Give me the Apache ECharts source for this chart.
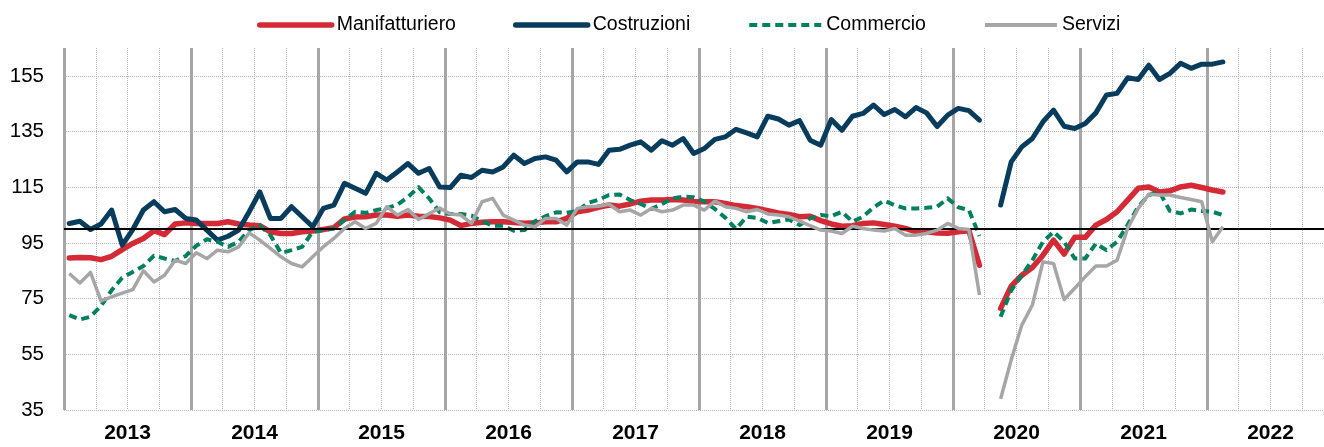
<!DOCTYPE html>
<html>
<head>
<meta charset="utf-8">
<script src="https://cdn.jsdelivr.net/npm/echarts@6/dist/echarts.min.js"></script>
<style>
html,body{margin:0;padding:0;background:#fff;}
#chart{width:1324px;height:447px;}
</style>
</head>
<body>
<div id="chart"></div>
<script>
// ---- Data (monthly, Jan 2013 - Feb 2022; Apr 2020 missing) ----
const years = ['2013','2014','2015','2016','2017','2018','2019','2020','2021','2022'];
const monthNums = ['01','02','03','04','05','06','07','08','09','10','11','12'];
const yTicks = [35, 55, 75, 95, 115, 135, 155];
const seriesNames = ['Manifatturiero', 'Costruzioni', 'Commercio', 'Servizi'];

const manifatturiero = [
  89.6, 89.8, 89.7, 89.0, 90.2, 92.6, 94.8, 96.6, 99.4, 98.0, 101.8, 102.2,
  102.0, 102.0, 102.0, 102.6, 101.8, 101.4, 101.2, 99.0, 98.4, 98.4, 99.0, 99.3,
  99.8, 100.5, 103.6, 104.3, 104.4, 105.0, 105.0, 104.6, 105.0, 104.6, 104.5, 104.0,
  103.2, 101.2, 102.0, 102.4, 102.6, 102.6, 102.3, 102.1, 102.2, 102.6, 102.6, 103.8,
  106.2, 106.8, 107.8, 108.6, 108.2, 109.0, 110.0, 110.4, 110.4, 110.6, 110.4, 109.9,
  109.8, 109.8, 109.2, 108.4, 108.0, 107.4, 106.6, 105.8, 105.2, 104.4, 104.6, 103.0,
  101.8, 101.0, 101.2, 102.0, 102.2, 101.6, 101.0, 100.2, 99.0, 99.0, 98.6, 98.5,
  99.0, 99.4, 87.0, null, 71.5, 79.5, 83.4, 86.2, 90.6, 96.0, 91.0, 97.0,
  97.0, 101.4, 103.4, 106.2, 110.4, 114.6, 115.1, 113.3, 113.7, 115.1, 115.7, 114.9,
  114.0, 113.3
];
const costruzioni = [
  102.0, 102.8, 99.8, 101.8, 106.8, 94.2, 99.8, 106.8, 109.8, 106.2, 107.0, 103.8,
  103.2, 99.6, 96.0, 97.4, 99.6, 106.2, 113.3, 103.8, 103.8, 108.0, 104.4, 100.8,
  107.4, 108.6, 116.4, 114.6, 112.8, 120.0, 117.6, 120.5, 123.5, 120.0, 121.7, 115.1,
  114.9, 119.3, 118.5, 121.1, 120.5, 122.3, 126.5, 123.5, 125.3, 125.9, 124.7, 120.5,
  124.1, 124.1, 123.2, 128.3, 128.6, 130.1, 131.3, 128.3, 131.7, 130.1, 132.5, 127.1,
  128.9, 132.2, 133.1, 135.8, 134.5, 133.1, 140.5, 139.5, 137.3, 138.9, 131.9, 130.1,
  139.3, 135.5, 140.5, 141.5, 144.5, 141.1, 142.9, 140.3, 143.6, 141.7, 136.8, 140.9,
  143.3, 142.5, 139.1, null, 108.6, 124.1, 129.5, 132.5, 138.5, 142.7, 136.9, 136.1,
  137.9, 141.7, 148.1, 148.7, 154.3, 153.7, 158.8, 153.7, 155.9, 159.5, 157.7, 159.2,
  159.2, 160.0
];
const commercio = [
  69.1, 67.5, 68.5, 72.4, 78.0, 82.5, 84.6, 86.7, 90.4, 89.4, 88.5, 90.3,
  94.0, 96.3, 95.4, 93.6, 95.4, 99.6, 101.4, 97.8, 91.4, 92.4, 93.6, 99.0,
  99.6, 100.2, 103.2, 106.2, 105.8, 106.8, 107.5, 108.7, 111.5, 115.0, 111.0, 106.0,
  105.4, 105.4, 104.8, 102.8, 101.2, 101.2, 99.4, 99.6, 102.8, 104.6, 106.0, 105.8,
  106.4, 109.4, 110.5, 112.2, 112.4, 110.4, 109.0, 107.2, 109.0, 111.0, 111.6, 111.4,
  109.8, 107.2, 104.0, 100.0, 104.4, 104.0, 102.2, 102.8, 103.4, 101.4, 103.8, 105.0,
  104.6, 106.2, 102.6, 104.4, 107.8, 110.2, 108.5, 107.4, 107.4, 107.6, 108.0, 111.0,
  107.8, 106.8, 97.5, null, 68.5, 78.0, 83.4, 88.8, 95.4, 99.0, 95.4, 89.4,
  89.4, 94.8, 92.4, 95.4, 101.4, 108.0, 112.2, 113.3, 106.5, 105.6, 107.0, 106.5,
  106.2, 105.0
];
const servizi = [
  84.0, 80.6, 84.4, 74.2, 75.6, 77.0, 78.2, 85.0, 81.0, 83.4, 88.8, 87.6,
  91.5, 89.4, 92.4, 91.8, 93.6, 98.6, 96.0, 93.0, 90.0, 87.6, 86.4, 90.0,
  93.6, 96.6, 100.2, 102.6, 100.2, 102.0, 108.0, 105.0, 107.0, 103.4, 105.5, 107.5,
  105.4, 105.0, 102.0, 109.8, 111.0, 105.0, 103.2, 101.4, 100.8, 103.8, 103.8, 101.4,
  107.4, 108.0, 108.2, 108.9, 106.2, 106.8, 105.0, 107.4, 106.2, 106.8, 108.6, 108.6,
  106.8, 110.0, 108.0, 107.4, 106.2, 107.0, 105.4, 105.0, 104.4, 102.8, 101.2, 99.6,
  99.3, 98.4, 101.0, 100.2, 99.6, 99.3, 100.2, 97.8, 97.8, 98.4, 99.6, 102.0,
  100.2, 99.8, 76.3, null, 39.0, 53.0, 65.5, 72.7, 88.2, 87.6, 74.7, 78.7,
  82.9, 86.7, 86.7, 88.8, 100.2, 107.4, 112.5, 112.2, 112.2, 111.3, 110.6, 109.8,
  95.4, 100.8
];
const baseLevel = 100;

// ---- Derived categories ----
const months = [];
years.forEach(y => monthNums.forEach(m => months.push(y + '-' + m)));

const FONT = '"Liberation Sans", Arial, sans-serif';
const colors = ['#d42a35', '#073c5d', '#00805f', '#a6a6a6'];
const legendWidths = [5.5, 5.5, 4, 4];

const chart = echarts.init(document.getElementById('chart'), null, {renderer: 'canvas'});

const option = {
  animation: false,
  backgroundColor: '#ffffff',
  legend: {
    data: seriesNames.map((n, i) => ({ name: n, lineStyle: { width: legendWidths[i] } })),
    left: 257,
    top: 15,
    padding: 0,
    itemWidth: 72,
    itemHeight: 20,
    itemGap: 57,
    itemStyle: { opacity: 0 },
    textStyle: { fontFamily: FONT, fontSize: 19.5, color: '#000', padding: [0, 0, 0, 0] },
    selectedMode: false
  },
  grid: { left: 64, width: 1270, top: 48, bottom: 37, containLabel: false, outerBoundsMode: 'none' },
  xAxis: [
    {
      type: 'category',
      data: months,
      boundaryGap: true,
      position: 'bottom',
      axisLine: { show: false },
      axisTick: { show: false },
      axisLabel: { show: false },
      splitLine: { show: true, interval: 2, lineStyle: { color: '#b4b4b4', type: 'dotted', width: 1 } }
    },
    {
      type: 'category',
      data: years,
      boundaryGap: true,
      position: 'bottom',
      axisLine: { show: false },
      axisTick: { show: false },
      axisLabel: { show: true, margin: 13, fontFamily: FONT, fontSize: 21, fontWeight: 'bold', color: '#000', interval: 0 },
      splitLine: { show: true, lineStyle: { color: '#a6a6a6', type: 'solid', width: 3 } }
    }
  ],
  yAxis: {
    type: 'value',
    min: 35,
    max: 165,
    axisLine: { show: false },
    axisTick: { show: false, customValues: yTicks },
    axisLabel: { customValues: yTicks, margin: 20, fontFamily: FONT, fontSize: 20.5, color: '#000' },
    splitLine: { show: true, lineStyle: { color: '#b4b4b4', type: 'dotted', width: 1 } }
  },
  series: [
    {
      name: '__base',
      type: 'line',
      data: [],
      z: 1,
      silent: true,
      markLine: {
        silent: true,
        symbol: ['none', 'none'],
        label: { show: false },
        lineStyle: { color: '#000', width: 2, type: 'solid' },
        data: [{ yAxis: baseLevel }]
      }
    },
    {
      name: seriesNames[0], type: 'line', data: manifatturiero, symbol: 'none', z: 3,
      itemStyle: { color: colors[0] },
      lineStyle: { color: colors[0], width: 5.5, cap: 'round', join: 'round' }
    },
    {
      name: seriesNames[1], type: 'line', data: costruzioni, symbol: 'none', z: 3,
      itemStyle: { color: colors[1] },
      lineStyle: { color: colors[1], width: 5, cap: 'round', join: 'round' }
    },
    {
      name: seriesNames[2], type: 'line', data: commercio, symbol: 'none', z: 4,
      itemStyle: { color: colors[2] },
      lineStyle: { color: colors[2], width: 4, type: [8, 5], join: 'round' }
    },
    {
      name: seriesNames[3], type: 'line', data: servizi, symbol: 'none', z: 5,
      itemStyle: { color: colors[3] },
      lineStyle: { color: colors[3], width: 3.5, join: 'round' }
    }
  ]
};
chart.setOption(option);
</script>
</body>
</html>
